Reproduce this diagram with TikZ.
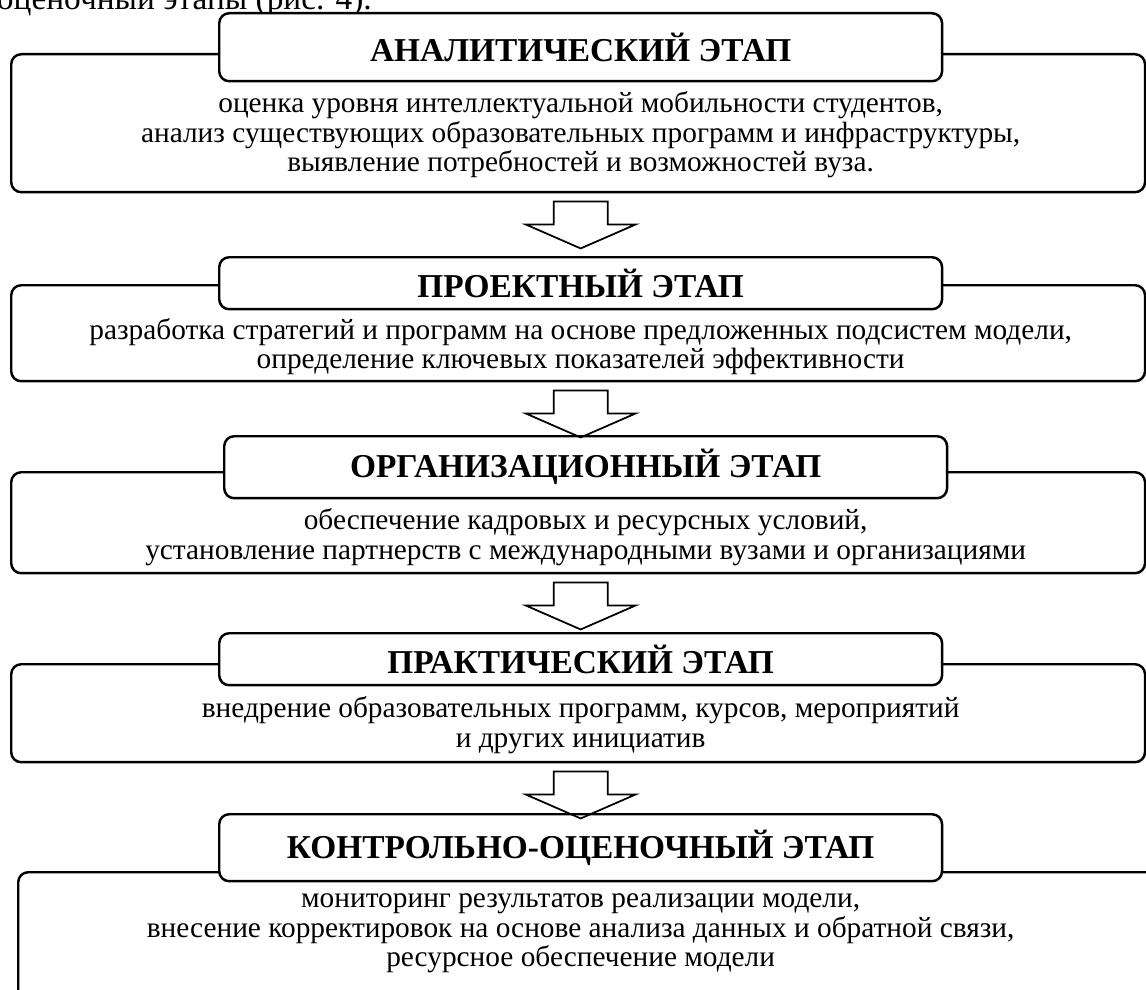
\documentclass[tikz,border=0pt]{standalone}
\usepackage{fontspec}
\setmainfont{Liberation Serif}[BoldFont={Liberation Serif Bold}]
\usetikzlibrary{positioning, calc}

\begin{document}
\begin{tikzpicture}[x=0.02cm,y=-0.02cm,every node/.style={font=\fontsize{16.7}{16.8}\selectfont},
    stage/.style={draw,line width=1.4pt,rounded corners=0.2cm,anchor=north west,inner sep=0pt},
    stagetitle/.style={stage,fill=white,minimum width=14.46cm,font=\fontsize{19}{20}\selectfont\bfseries},
    stagetext/.style={align=center,inner sep=0pt},
    blockarrow/.style={draw,line width=1pt,line join=miter}]
    \path[use as bounding box] (0,0) rectangle (1146,990);
    \clip (0,0) rectangle (1146,990);
    \node[anchor=base east,font=\fontsize{19}{22}\selectfont] (lead) at (378,10) {и контрольно-оценочный этапы (рис. 4).};

    \node[stage,minimum width=22.68cm,minimum height=2.76cm] (box1) at (10,53) {};
    \node[stagetitle,minimum height=1.36cm] (title1) at (218,12) {АНАЛИТИЧЕСКИЙ ЭТАП};
    \node[stagetext] (text1) at ($(title1.south)!.5!(title1.south |- box1.south)+(0,-3)$) {оценка уровня интеллектуальной мобильности студентов,\\
        анализ существующих образовательных программ и инфраструктуры,\\ выявление потребностей и возможностей вуза.};

    \node[stage,minimum width=22.68cm,minimum height=1.92cm] (box2) at (10,284) {};
    \node[stagetitle,minimum height=1.04cm] (title2) at (218,256) {ПРОЕКТНЫЙ ЭТАП};
    \node[stagetext] (text2) at ($(title2.south)!.5!(title2.south |- box2.south)$) {разработка стратегий и программ на основе предложенных подсистем модели,\\
        определение ключевых показателей эффективности};

    \node[stage,minimum width=22.68cm,minimum height=2.02cm] (box3) at (10,471) {};
    \node[stagetitle,minimum height=1.24cm] (title3) at (223,435) {ОРГАНИЗАЦИОННЫЙ ЭТАП};
    \node[stagetext] (text3) at ($(title3.south)!.5!(title3.south |- box3.south)$) {обеспечение кадровых и ресурсных условий,\\
        установление партнерств с международными вузами и организациями};

    \node[stage,minimum width=22.68cm,minimum height=1.96cm] (box4) at (10,663) {};
    \node[stagetitle,minimum height=1.04cm] (title4) at (218,632) {ПРАКТИЧЕСКИЙ ЭТАП};
    \node[stagetext] (text4) at ($(title4.south)!.5!(title4.south |- box4.south)$) {внедрение образовательных программ, курсов, мероприятий\\
        и других инициатив};

    \node[stage,minimum width=23cm,minimum height=3cm] (box5) at (17,871) {};
    \node[stagetitle,minimum height=1.34cm] (title5) at (218,813) {КОНТРОЛЬНО-ОЦЕНОЧНЫЙ ЭТАП};
    \node[stagetext,anchor=north] (text5) at ($(title5.south)+(0,11)$) {мониторинг результатов реализации модели,\\
        внесение корректировок на основе анализа данных и обратной связи,\\ ресурсное обеспечение модели};

    \foreach \a/\b in {box1/title2,box2/title3,box3/title4,box4/title5} {
        \draw[blockarrow] ($(\a.south -| title1.south)+(-27,8)$) -- ++(54,0) -- ++(0,23) -- ++(28,0)
            -- ++(-55,24) -- ++(-55,-24) -- ++(28,0) -- cycle;
    }
\end{tikzpicture}
\end{document}
